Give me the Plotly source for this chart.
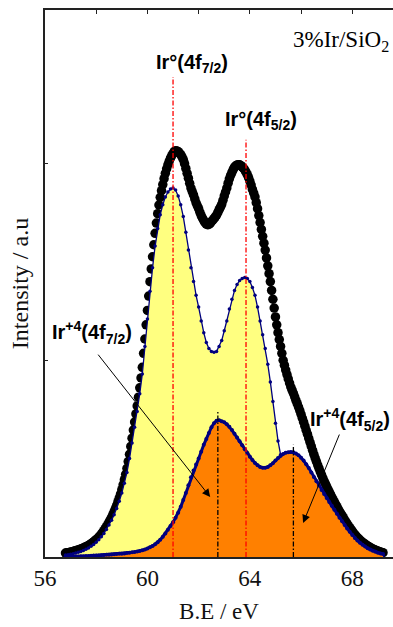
import numpy as np
import plotly.graph_objects as go

# ---------------- data ----------------
BE_START = 56.8      # eV, first sample
STEP_EXP = 0.05      # eV, experimental sampling
STEP_FIT = 0.1       # eV, fitted-component sampling

# experimental envelope (black dots), 56.80 ... 69.20 eV
exp_counts = [
    0.020, 0.021, 0.022, 0.023, 0.025, 0.026, 0.028, 0.030, 0.032, 0.034, 0.036, 0.038, 0.041, 0.043, 0.046, 0.049, 0.052, 0.055, 0.059, 0.063,
    0.067, 0.072, 0.077, 0.082, 0.088, 0.094, 0.101, 0.108, 0.116, 0.125, 0.134, 0.144, 0.154, 0.165, 0.177, 0.189, 0.202, 0.216, 0.231, 0.246,
    0.263, 0.281, 0.300, 0.320, 0.342, 0.366, 0.393, 0.420, 0.450, 0.485, 0.522, 0.562, 0.604, 0.645, 0.686, 0.727, 0.768, 0.812, 0.860, 0.910,
    0.964, 1.035, 1.108, 1.180, 1.253, 1.326, 1.399, 1.464, 1.526, 1.587, 1.645, 1.697, 1.745, 1.789, 1.828, 1.862, 1.893, 1.923, 1.950, 1.973,
    1.993, 2.011, 2.027, 2.040, 2.052, 2.060, 2.065, 2.064, 2.060, 2.053, 2.045, 2.034, 2.020, 1.999, 1.975, 1.950, 1.925, 1.899, 1.875, 1.857,
    1.840, 1.820, 1.800, 1.785, 1.770, 1.752, 1.735, 1.722, 1.710, 1.699, 1.692, 1.689, 1.690, 1.696, 1.705, 1.712, 1.720, 1.729, 1.738, 1.751,
    1.765, 1.778, 1.792, 1.813, 1.835, 1.855, 1.875, 1.900, 1.922, 1.940, 1.955, 1.969, 1.981, 1.988, 1.992, 1.994, 1.993, 1.989, 1.983, 1.976,
    1.968, 1.956, 1.943, 1.928, 1.910, 1.890, 1.868, 1.850, 1.830, 1.801, 1.770, 1.735, 1.700, 1.665, 1.630, 1.595, 1.560, 1.520, 1.480, 1.440,
    1.400, 1.355, 1.310, 1.265, 1.220, 1.180, 1.140, 1.105, 1.070, 1.035, 1.000, 0.975, 0.950, 0.927, 0.905, 0.884, 0.864, 0.848, 0.832, 0.814,
    0.796, 0.779, 0.762, 0.744, 0.725, 0.705, 0.685, 0.665, 0.644, 0.624, 0.603, 0.583, 0.562, 0.542, 0.522, 0.503, 0.485, 0.467, 0.450, 0.433,
    0.417, 0.401, 0.386, 0.372, 0.358, 0.344, 0.331, 0.318, 0.305, 0.292, 0.280, 0.268, 0.256, 0.244, 0.232, 0.221, 0.211, 0.200, 0.189, 0.178,
    0.168, 0.158, 0.149, 0.140, 0.131, 0.122, 0.114, 0.106, 0.099, 0.092, 0.086, 0.080, 0.075, 0.070, 0.065, 0.060, 0.056, 0.052, 0.048, 0.044,
    0.041, 0.038, 0.035, 0.032, 0.030, 0.027, 0.025, 0.023, 0.022,
]

# Ir(0) 4f doublet component (yellow), 56.8 ... 69.2 eV
ir0_fit = [
    0.010, 0.012, 0.014, 0.017, 0.020, 0.024, 0.028, 0.033, 0.039, 0.046, 0.054, 0.064,
    0.075, 0.088, 0.103, 0.120, 0.140, 0.162, 0.187, 0.215, 0.247, 0.283,
    0.325, 0.375, 0.430, 0.500, 0.580, 0.660, 0.740, 0.830, 0.930, 1.070,
    1.210, 1.350, 1.470, 1.580, 1.670, 1.740, 1.790, 1.830, 1.855, 1.870,
    1.875, 1.865, 1.835, 1.790, 1.730, 1.650, 1.560, 1.470, 1.400, 1.330,
    1.270, 1.200, 1.140, 1.090, 1.060, 1.045, 1.040, 1.045, 1.070, 1.100,
    1.150, 1.200, 1.260, 1.310, 1.355, 1.385, 1.405, 1.415, 1.420, 1.415,
    1.400, 1.370, 1.330, 1.270, 1.200, 1.130, 1.060, 0.980, 0.890, 0.790,
    0.680, 0.590, 0.520, 0.460, 0.410, 0.370, 0.330, 0.300, 0.270, 0.245,
    0.220, 0.195, 0.172, 0.151, 0.132, 0.115, 0.100, 0.087, 0.076, 0.066,
    0.058, 0.051, 0.045, 0.040, 0.036, 0.032, 0.029, 0.026, 0.023, 0.021,
    0.019, 0.017, 0.015, 0.014, 0.013, 0.012, 0.011, 0.010, 0.009, 0.008,
    0.008, 0.007, 0.007,
]

# Ir(+4) 4f doublet component (orange), 56.8 ... 69.2 eV
ir4_fit = [
    0.002, 0.002, 0.002, 0.003, 0.003, 0.003, 0.004, 0.004, 0.005, 0.005, 0.006, 0.007,
    0.007, 0.008, 0.009, 0.010, 0.011, 0.012, 0.013, 0.014, 0.015, 0.016,
    0.017, 0.018, 0.020, 0.022, 0.024, 0.026, 0.028, 0.030, 0.034, 0.038,
    0.043, 0.049, 0.056, 0.065, 0.075, 0.088, 0.103, 0.120, 0.138, 0.157,
    0.177, 0.200, 0.225, 0.255, 0.290, 0.325, 0.365, 0.405, 0.440, 0.470,
    0.500, 0.535, 0.570, 0.600, 0.630, 0.660, 0.680, 0.693, 0.695, 0.690,
    0.685, 0.675, 0.662, 0.645, 0.626, 0.607, 0.588, 0.568, 0.548, 0.528,
    0.510, 0.493, 0.478, 0.466, 0.458, 0.453, 0.453, 0.458, 0.466, 0.477,
    0.490, 0.503, 0.515, 0.524, 0.530, 0.533, 0.534, 0.532, 0.526, 0.517,
    0.505, 0.490, 0.472, 0.452, 0.430, 0.407, 0.385, 0.363, 0.341, 0.320,
    0.300, 0.280, 0.260, 0.240, 0.220, 0.200, 0.182, 0.163, 0.145, 0.128,
    0.112, 0.097, 0.084, 0.072, 0.062, 0.053, 0.045, 0.038, 0.032, 0.027,
    0.022, 0.018, 0.015,
]

# peak-position markers (eV) and the height their guide line reaches
ir0_peaks = [61.0, 63.85]
ir0_peak_tops = [2.44, 2.12]
ir4_peaks = [62.75, 65.7]
ir4_peak_tops = [0.74, 0.57]

x_tick_vals = [56, 60, 64, 68]
x_tick_text = ["56", "60", "64", "68"]
y_tick_vals = [0, 1, 2]

be_exp = np.round(BE_START + STEP_EXP * np.arange(len(exp_counts)), 2)
be_fit = np.round(BE_START + STEP_FIT * np.arange(len(ir0_fit)), 2)

X_RANGE = [56, 69.59]
Y_RANGE = [0, 2.78]

NAVY = "#00007f"
SERIF = "Liberation Serif"
SANS = "Liberation Sans"

fig = go.Figure()

fig.add_trace(go.Scatter(
    x=be_exp, y=exp_counts, mode="markers",
    marker=dict(size=9.5, color="black", line=dict(width=0)),
    cliponaxis=False, hoverinfo="skip", name="exp"))

fig.add_trace(go.Scatter(
    x=be_fit, y=ir0_fit, mode="lines+markers",
    line=dict(color=NAVY, width=1.3),
    marker=dict(size=3.5, color=NAVY),
    fill="tozeroy", fillcolor="#ffff80", hoverinfo="skip", name="Ir0"))

fig.add_trace(go.Scatter(
    x=be_fit, y=ir4_fit, mode="lines+markers",
    line=dict(color=NAVY, width=3),
    marker=dict(size=4, color=NAVY),
    fill="tozeroy", fillcolor="#ff8000", hoverinfo="skip", name="Ir4"))

for p, top in zip(ir0_peaks, ir0_peak_tops):
    fig.add_trace(go.Scatter(
        x=[p, p], y=[0, top], mode="lines", xaxis="x2",
        line=dict(color="#ff0000", width=1.3, dash="5px,2px,1.5px,2px"),
        hoverinfo="skip"))
for p, top in zip(ir4_peaks, ir4_peak_tops):
    fig.add_trace(go.Scatter(
        x=[p, p], y=[0, top], mode="lines", xaxis="x2",
        line=dict(color="black", width=1.3, dash="5px,2px,1.5px,2px"),
        hoverinfo="skip"))

label_font = dict(family=SANS, size=20, color="black", weight="bold")
annotations = [
    dict(x=61.75, y=2.51, text="Ir°(4f<sub>7/2</sub>)", font=label_font),
    dict(x=64.45, y=2.22, text="Ir°(4f<sub>5/2</sub>)", font=label_font),
    dict(x=57.84, y=1.14, text="Ir<sup>+4</sup>(4f<sub>7/2</sub>)", font=label_font),
    dict(x=69.56, y=0.70, text="Ir<sup>+4</sup>(4f<sub>5/2</sub>)", font=label_font,
         xanchor="right"),
    dict(x=69.52, y=2.62, text="3%Ir/SiO<sub>2</sub>", xanchor="right",
         font=dict(family=SERIF, size=23, color="black")),
]
for a in annotations:
    a.update(xref="x", yref="y", showarrow=False)
    a.setdefault("xanchor", "center")
    a["yanchor"] = "middle"

arrows = [
    dict(x=62.45, y=0.305, ax=58.03, ay=1.036),
    dict(x=66.08, y=0.173, ax=67.52, ay=0.63),
]
for a in arrows:
    a.update(xref="x", yref="y", axref="x", ayref="y", text="", showarrow=True,
             arrowhead=2, arrowsize=1.6, arrowwidth=1, arrowcolor="black")

fig.update_layout(
    width=393, height=627,
    margin=dict(l=45, r=0, t=10, b=70),
    paper_bgcolor="white", plot_bgcolor="white",
    showlegend=False,
    annotations=annotations + arrows,
    xaxis=dict(range=X_RANGE, tickvals=x_tick_vals, ticktext=x_tick_text,
               ticks="", showline=True, linecolor="#222", linewidth=1.6,
               showgrid=False, zeroline=False, automargin=False,
               tickfont=dict(family=SERIF, size=23, color="#111"),
               title=dict(text="B.E / eV", font=dict(family=SERIF, size=23, color="#111"),
                          standoff=12)),
    xaxis2=dict(range=X_RANGE, overlaying="x", side="top", tick0=56, dtick=2,
                ticks="inside", ticklen=4, tickcolor="#222", showticklabels=False,
                showline=True, linecolor="#222", linewidth=1.6,
                showgrid=False, zeroline=False),
    yaxis=dict(range=Y_RANGE, tickvals=y_tick_vals, ticks="inside", ticklen=3,
               tickcolor="#222", showticklabels=False, showline=True,
               linecolor="#222", linewidth=1.6, showgrid=False, zeroline=False,
               automargin=False,
               title=dict(text="Intensity / a.u", font=dict(family=SERIF, size=24, color="#111"),
                          standoff=8)),
)

fig.write_html("out.html")
